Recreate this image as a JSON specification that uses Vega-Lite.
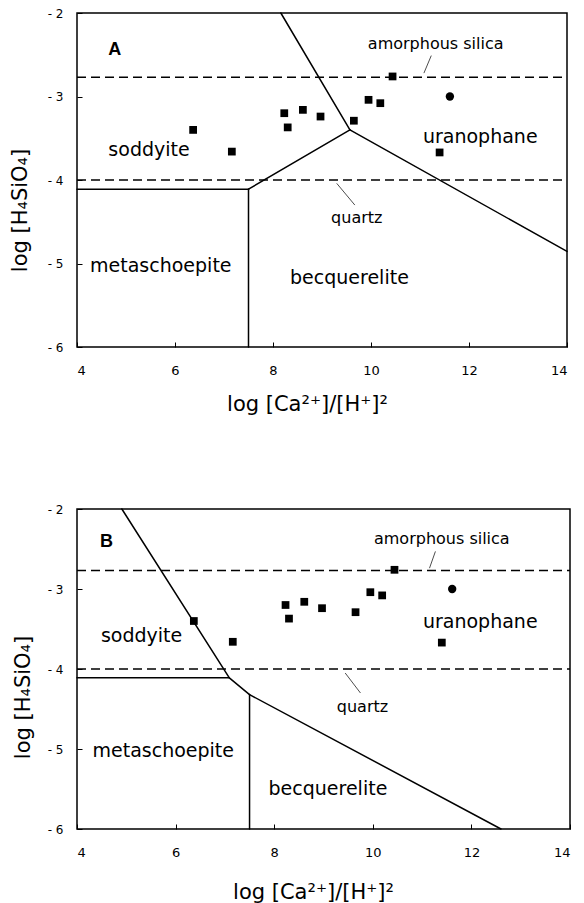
{
  "$schema": "https://vega.github.io/schema/vega-lite/v6.json",
  "background": "white",
  "padding": {"left": 8, "top": 6, "right": 0, "bottom": 0},
  "config": {
    "view": {"stroke": "black", "strokeWidth": 1.5},
    "axis": {"grid": false, "domain": false, "tickColor": "black", "tickSize": -5, "tickWidth": 1, "labelColor": "black", "titleColor": "black", "labelFont": "DejaVu Sans", "titleFont": "DejaVu Sans", "titleFontWeight": "normal", "titleFontSize": 21},
    "axisX": {"labelFontSize": 13, "labelPadding": 28, "labelBaseline": "middle", "titleBaseline": "alphabetic", "titleAlign": "center"},
    "axisY": {"labelFontSize": 12, "labelPadding": 19, "labelBaseline": "middle", "titleAngle": 270, "titleBaseline": "middle", "titleAlign": "center"},
    "text": {"font": "DejaVu Sans", "color": "black"}
  },
  "datasets": {
    "points": [
      {"kind": "square", "x": 6.37, "y": -3.40},
      {"kind": "square", "x": 7.16, "y": -3.66},
      {"kind": "square", "x": 8.23, "y": -3.20},
      {"kind": "square", "x": 8.30, "y": -3.37},
      {"kind": "square", "x": 8.61, "y": -3.16},
      {"kind": "square", "x": 8.97, "y": -3.24},
      {"kind": "square", "x": 9.65, "y": -3.29},
      {"kind": "square", "x": 9.95, "y": -3.04},
      {"kind": "square", "x": 10.19, "y": -3.08},
      {"kind": "square", "x": 10.44, "y": -2.76},
      {"kind": "square", "x": 11.40, "y": -3.67},
      {"kind": "circle", "x": 11.61, "y": -3.00}
    ],
    "silica": [
      {"line": "amorphous silica", "x": 4, "y": -2.77},
      {"line": "amorphous silica", "x": 14, "y": -2.77},
      {"line": "quartz", "x": 4, "y": -4.0},
      {"line": "quartz", "x": 14, "y": -4.0}
    ],
    "phaseA": [
      {"seg": "soddyite/uranophane", "x": 8.16, "y": -2},
      {"seg": "soddyite/uranophane", "x": 9.57, "y": -3.40},
      {"seg": "uranophane/becquerelite", "x": 9.57, "y": -3.40},
      {"seg": "uranophane/becquerelite", "x": 14, "y": -4.855},
      {"seg": "soddyite/becquerelite", "x": 9.57, "y": -3.40},
      {"seg": "soddyite/becquerelite", "x": 7.5, "y": -4.11},
      {"seg": "soddyite/metaschoepite", "x": 4, "y": -4.11},
      {"seg": "soddyite/metaschoepite", "x": 7.5, "y": -4.11},
      {"seg": "metaschoepite/becquerelite", "x": 7.5, "y": -4.11},
      {"seg": "metaschoepite/becquerelite", "x": 7.5, "y": -6}
    ],
    "phaseB": [
      {"seg": "soddyite/uranophane", "x": 4.91, "y": -2},
      {"seg": "soddyite/uranophane", "x": 7.09, "y": -4.11},
      {"seg": "soddyite/becquerelite", "x": 7.09, "y": -4.11},
      {"seg": "soddyite/becquerelite", "x": 7.5, "y": -4.32},
      {"seg": "uranophane/becquerelite", "x": 7.5, "y": -4.32},
      {"seg": "uranophane/becquerelite", "x": 12.6, "y": -6},
      {"seg": "soddyite/metaschoepite", "x": 4, "y": -4.11},
      {"seg": "soddyite/metaschoepite", "x": 7.09, "y": -4.11},
      {"seg": "metaschoepite/becquerelite", "x": 7.5, "y": -4.32},
      {"seg": "metaschoepite/becquerelite", "x": 7.5, "y": -6}
    ],
    "leadersA": [
      {"seg": "amorphous silica", "x": 11.23, "y": -2.51},
      {"seg": "amorphous silica", "x": 11.08, "y": -2.72},
      {"seg": "quartz", "x": 9.30, "y": -4.04},
      {"seg": "quartz", "x": 9.67, "y": -4.30}
    ],
    "leadersB": [
      {"seg": "amorphous silica", "x": 11.27, "y": -2.53},
      {"seg": "amorphous silica", "x": 11.15, "y": -2.74},
      {"seg": "quartz", "x": 9.44, "y": -4.05},
      {"seg": "quartz", "x": 9.75, "y": -4.30}
    ],
    "labelsA": [
      {"kind": "panel", "label": "A", "x": 4.77, "y": -2.44},
      {"kind": "region", "label": "soddyite", "x": 5.47, "y": -3.64},
      {"kind": "region", "label": "uranophane", "x": 12.23, "y": -3.48},
      {"kind": "region", "label": "metaschoepite", "x": 5.71, "y": -5.03},
      {"kind": "region", "label": "becquerelite", "x": 9.56, "y": -5.17},
      {"kind": "line", "label": "amorphous silica", "x": 11.32, "y": -2.37},
      {"kind": "line", "label": "quartz", "x": 9.71, "y": -4.46}
    ],
    "labelsB": [
      {"kind": "panel", "label": "B", "x": 4.60, "y": -2.41},
      {"kind": "region", "label": "soddyite", "x": 5.31, "y": -3.59},
      {"kind": "region", "label": "uranophane", "x": 12.18, "y": -3.41},
      {"kind": "region", "label": "metaschoepite", "x": 5.75, "y": -5.03},
      {"kind": "region", "label": "becquerelite", "x": 9.09, "y": -5.50},
      {"kind": "line", "label": "amorphous silica", "x": 11.40, "y": -2.375},
      {"kind": "line", "label": "quartz", "x": 9.79, "y": -4.47}
    ]
  },
  "concat": [
    {
      "width": 490,
      "height": 334,
      "encoding": {
        "x": {"field": "x", "type": "quantitative", "scale": {"domain": [4, 14], "nice": false, "zero": false}, "axis": {"title": "log [Ca²⁺]/[H⁺]²", "values": [4, 6, 8, 10, 12, 14], "titleX": 230, "titleY": 63}},
        "y": {"field": "y", "type": "quantitative", "scale": {"domain": [-6, -2], "nice": false, "zero": false}, "axis": {"title": "log [H₄SiO₄]", "values": [-6, -5, -4, -3, -2], "labelExpr": "'- ' + abs(datum.value)", "titleX": -57, "titleY": 197}}
      },
      "layer": [
        {"data": {"name": "silica"}, "mark": {"type": "line", "color": "black", "strokeWidth": 1.5, "strokeDash": [9, 5]}, "encoding": {"detail": {"field": "line"}}},
        {"data": {"name": "phaseA"}, "mark": {"type": "line", "color": "black", "strokeWidth": 1.5, "strokeCap": "round"}, "encoding": {"detail": {"field": "seg"}}},
        {"data": {"name": "leadersA"}, "mark": {"type": "line", "color": "black", "strokeWidth": 0.7}, "encoding": {"detail": {"field": "seg"}}},
        {"data": {"name": "points"}, "mark": {"type": "point", "filled": true, "color": "black", "opacity": 1}, "encoding": {"shape": {"field": "kind", "type": "nominal", "scale": {"domain": ["square", "circle"], "range": ["square", "circle"]}, "legend": null}, "size": {"field": "kind", "type": "nominal", "scale": {"domain": ["square", "circle"], "range": [60, 70]}, "legend": null}}},
        {"data": {"name": "labelsA"}, "transform": [{"filter": "datum.kind === 'region'"}], "mark": {"type": "text", "fontSize": 19, "align": "center", "baseline": "middle"}, "encoding": {"text": {"field": "label"}}},
        {"data": {"name": "labelsA"}, "transform": [{"filter": "datum.kind === 'line'"}], "mark": {"type": "text", "fontSize": 16, "align": "center", "baseline": "middle"}, "encoding": {"text": {"field": "label"}}},
        {"data": {"name": "labelsA"}, "transform": [{"filter": "datum.kind === 'panel'"}], "mark": {"type": "text", "font": "Liberation Sans", "fontWeight": "bold", "fontSize": 18, "align": "center", "baseline": "middle"}, "encoding": {"text": {"field": "label"}}}
      ]
    },
    {
      "width": 493,
      "height": 320,
      "encoding": {
        "x": {"field": "x", "type": "quantitative", "scale": {"domain": [4, 14], "nice": false, "zero": false}, "axis": {"title": "log [Ca²⁺]/[H⁺]²", "values": [4, 6, 8, 10, 12, 14], "titleX": 236, "titleY": 69}},
        "y": {"field": "y", "type": "quantitative", "scale": {"domain": [-6, -2], "nice": false, "zero": false}, "axis": {"title": "log [H₄SiO₄]", "values": [-6, -5, -4, -3, -2], "labelExpr": "'- ' + abs(datum.value)", "titleX": -54, "titleY": 188}}
      },
      "layer": [
        {"data": {"name": "silica"}, "mark": {"type": "line", "color": "black", "strokeWidth": 1.5, "strokeDash": [9, 5]}, "encoding": {"detail": {"field": "line"}}},
        {"data": {"name": "phaseB"}, "mark": {"type": "line", "color": "black", "strokeWidth": 1.5, "strokeCap": "round"}, "encoding": {"detail": {"field": "seg"}}},
        {"data": {"name": "leadersB"}, "mark": {"type": "line", "color": "black", "strokeWidth": 0.7}, "encoding": {"detail": {"field": "seg"}}},
        {"data": {"name": "points"}, "mark": {"type": "point", "filled": true, "color": "black", "opacity": 1}, "encoding": {"shape": {"field": "kind", "type": "nominal", "scale": {"domain": ["square", "circle"], "range": ["square", "circle"]}, "legend": null}, "size": {"field": "kind", "type": "nominal", "scale": {"domain": ["square", "circle"], "range": [60, 70]}, "legend": null}}},
        {"data": {"name": "labelsB"}, "transform": [{"filter": "datum.kind === 'region'"}], "mark": {"type": "text", "fontSize": 19, "align": "center", "baseline": "middle"}, "encoding": {"text": {"field": "label"}}},
        {"data": {"name": "labelsB"}, "transform": [{"filter": "datum.kind === 'line'"}], "mark": {"type": "text", "fontSize": 16, "align": "center", "baseline": "middle"}, "encoding": {"text": {"field": "label"}}},
        {"data": {"name": "labelsB"}, "transform": [{"filter": "datum.kind === 'panel'"}], "mark": {"type": "text", "font": "Liberation Sans", "fontWeight": "bold", "fontSize": 18, "align": "center", "baseline": "middle"}, "encoding": {"text": {"field": "label"}}}
      ]
    }
  ],
  "columns": 1,
  "align": "none",
  "spacing": 87
}
